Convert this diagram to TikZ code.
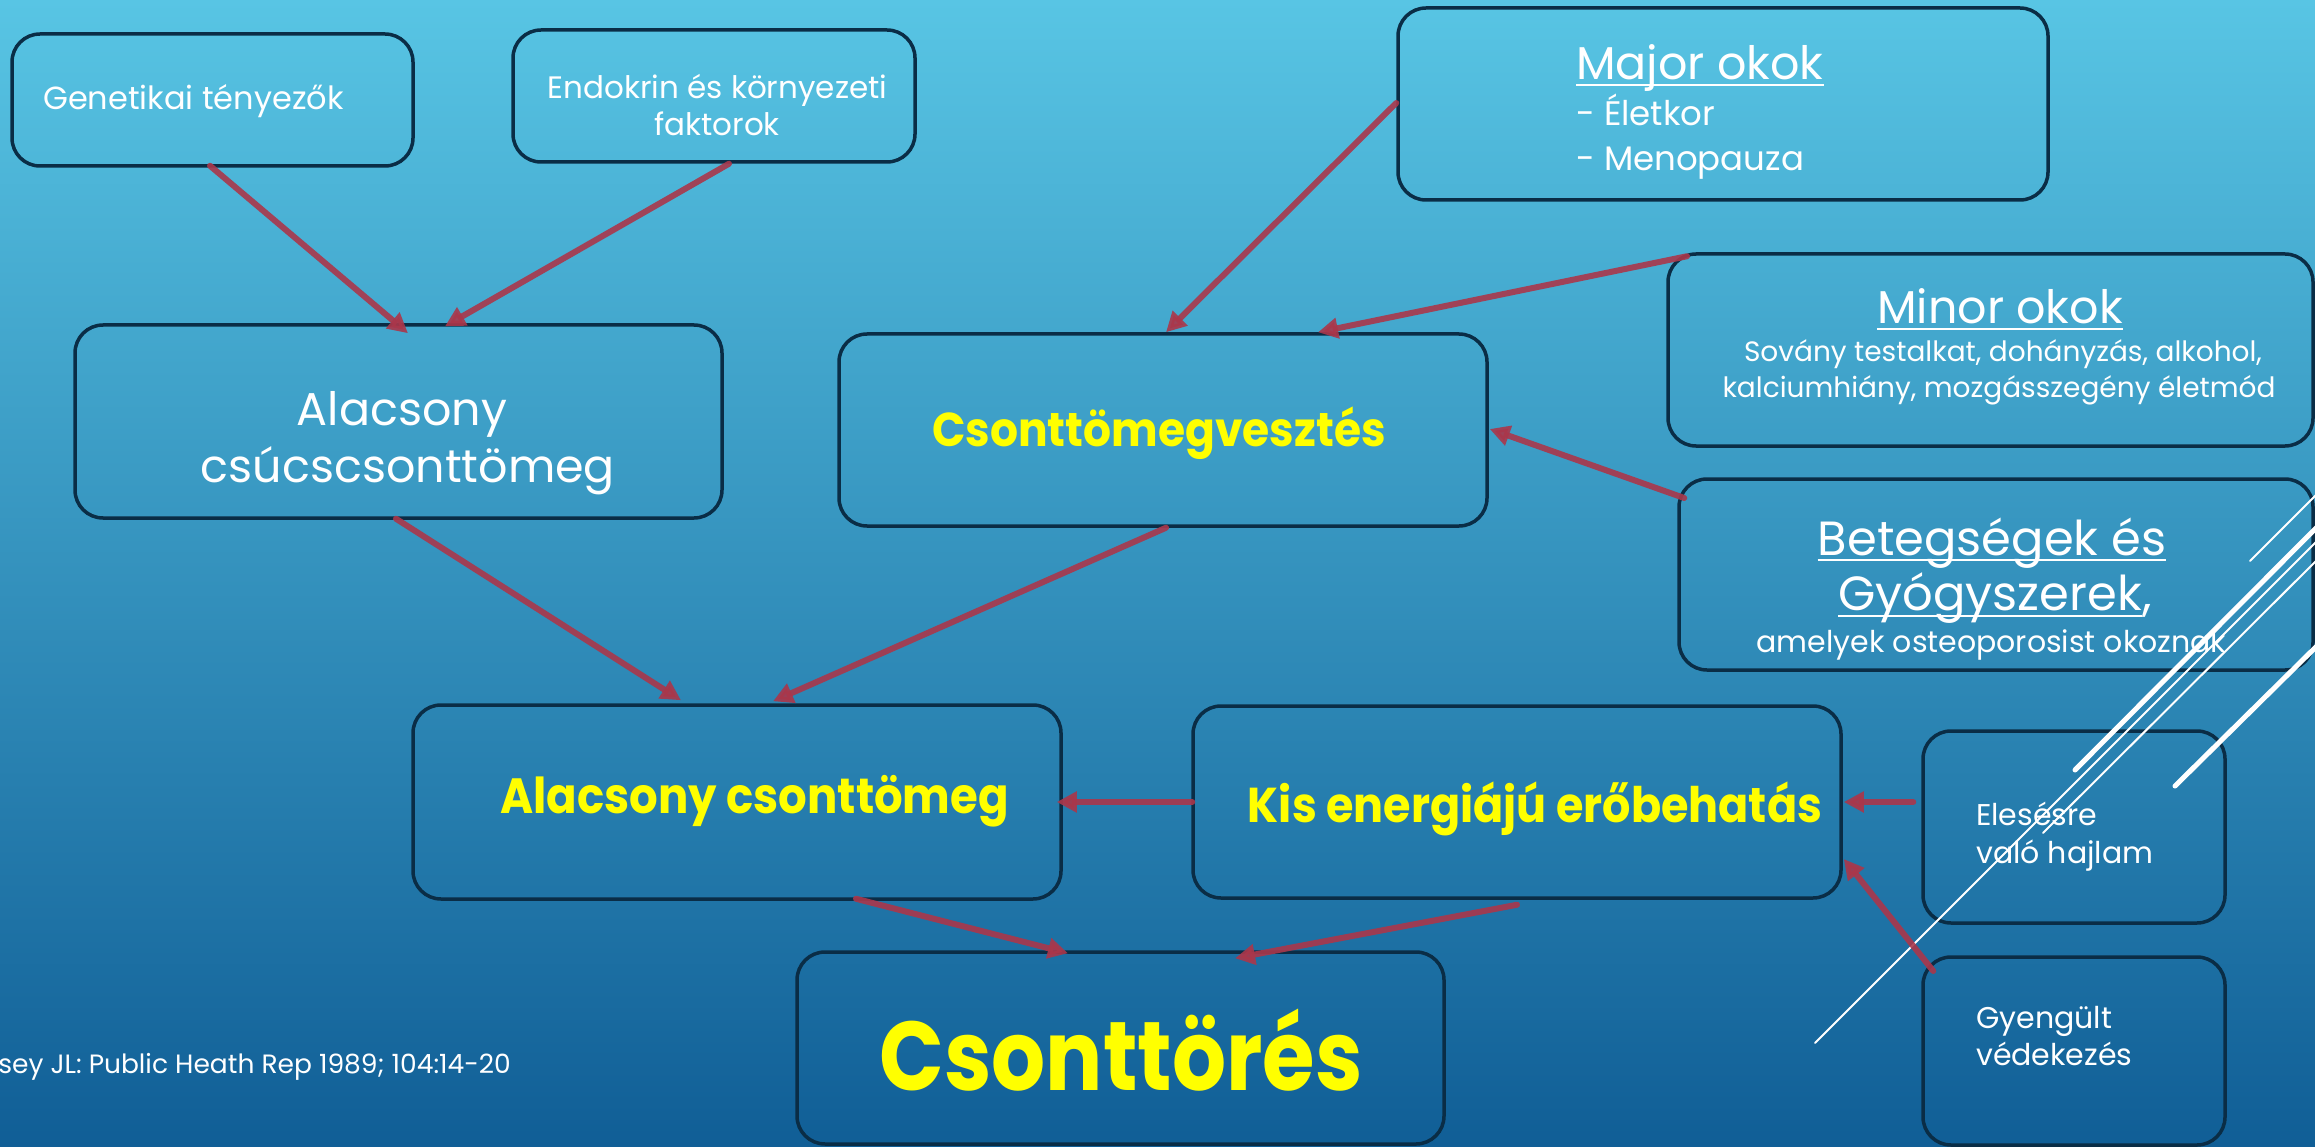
\documentclass[tikz,border=0pt]{standalone}
\usepackage{fontspec}
\usepackage{graphicx}
\setmainfont{Poppins}
\usetikzlibrary{arrows.meta,calc}
\definecolor{bgtop}{RGB}{88,197,228}
\definecolor{bgbot}{RGB}{16,94,150}
\definecolor{boxline}{RGB}{10,45,70}
\definecolor{arrred}{RGB}{170,55,75}
\definecolor{ylw}{RGB}{255,255,0}
\newcommand\fsz[1]{\fontsize{#1}{#1}\selectfont}
\newcommand\tallbox[2]{\scalebox{1}[#1]{#2}}
\begin{document}
\begin{tikzpicture}[x=1pt,y=-1pt,
  box/.style={draw=boxline, line width=3.5pt, rounded corners=28pt, inner sep=0pt},
  txt/.style={text=white, inner sep=0pt, anchor=base},
  ytxt/.style={text=ylw, inner sep=0pt, anchor=base, font=\bfseries},
  uline/.style={white, line width=2pt},
  deco/.style={white, line cap=round},
  arr/.style={draw=arrred, line width=6pt, line cap=round, opacity=0.9,
    -{Triangle[length=20pt,width=20pt]}}
]
\useasboundingbox (0,0) rectangle (2315,1147);
\clip (0,0) rectangle (2315,1147);
\shade[top color=bgtop, bottom color=bgbot] (0,0) rectangle (2315,1147);

% boxes
\node[box, minimum width=401pt, minimum height=132pt] (gen)   at (212.5,100) {};
\node[box, minimum width=402pt, minimum height=132pt] (endo)  at (714,96) {};
\node[box, minimum width=647pt, minimum height=193pt] (acs)   at (398.5,421.5) {};
\node[box, minimum width=648pt, minimum height=192pt] (ctv)   at (1163,430) {};
\node[box, minimum width=650pt, minimum height=192pt] (major) at (1723,104) {};
\node[box, minimum width=645pt, minimum height=192pt] (minor) at (1990.5,350) {};
\node[box, minimum width=634pt, minimum height=191pt] (beteg) at (1996,574.5) {};
\node[box, minimum width=648pt, minimum height=194pt] (acm)   at (737,802) {};
\node[box, minimum width=648pt, minimum height=192pt] (kis)   at (1517,802) {};
\node[box, minimum width=302pt, minimum height=192pt] (eles)  at (2074,827) {};
\node[box, minimum width=302pt, minimum height=188pt] (gyen)  at (2074,1051) {};
\node[box, minimum width=647pt, minimum height=192pt] (csto)  at (1120.5,1048) {};

% texts
\node[txt, anchor=base west] (gent) at (43,110) {\fsz{32}Genetikai tényezők};
\node[txt] (endt1) at (717.5,99) {\fsz{31}Endokrin és környezeti};
\node[txt] (endt2) at (717,136) {\fsz{31}faktorok};
\node[txt] (acst1) at (402,425) {\fsz{46}Alacsony};
\node[txt] (acst2) at (408,482) {\fsz{46}csúcscsonttömeg};
\node[ytxt] (ctvt) at (1159,446) {\fsz{44}\tallbox{1.08}{Csonttömegvesztés}};
\node[txt, anchor=base west] (majt1) at (1576,80) {\fsz{46}Major okok};
\node[txt, anchor=base west] (majt2) at (1576,126) {\fsz{34}- Életkor};
\node[txt, anchor=base west] (majt3) at (1576,171) {\fsz{34}- Menopauza};
\node[txt] (mint1) at (2000,324) {\fsz{46}Minor okok};
\node[txt] (mint2) at (2003,362) {\fsz{28}Sovány testalkat, dohányzás, alkohol,};
\node[txt] (mint3) at (1999,397) {\fsz{28}kalciumhiány, mozgásszegény életmód};
\node[txt] (bett1) at (1992,555) {\fsz{48}Betegségek és};
\node[txt, anchor=base west] (bett2) at (1838,610) {\fsz{48}Gyógyszerek};
\node[txt, anchor=base west] (bett2c) at (bett2.base east) {\fsz{48},};
\node[txt] (bett3) at (1991.5,652) {\fsz{30}amelyek osteoporosist okoznak};
\node[ytxt] (acmt) at (754.5,813) {\fsz{45}\tallbox{1.1}{Alacsony csonttömeg}};
\node[ytxt] (kist) at (1535,822) {\fsz{44.5}\tallbox{1.1}{Kis energiájú erőbehatás}};
\node[ytxt] (cstot) at (1121,1090) {\fsz{85}\tallbox{1.15}{Csonttörés}};
\node[txt, anchor=base west] (elt1) at (1976,825) {\fsz{30}Elesésre};
\node[txt, anchor=base west] (elt2) at (1976,863) {\fsz{30}való hajlam};
\node[txt, anchor=base west] (gyt1) at (1976,1028) {\fsz{30}Gyengült};
\node[txt, anchor=base west] (gyt2) at (1976,1065) {\fsz{30}védekezés};
\node[txt, anchor=base east] (cite) at (511,1073) {\fsz{26.5}sey JL: Public Heath Rep 1989; 104:14-20};

% underlines
\draw[uline] ([yshift=-5pt]majt1.base west) -- ([yshift=-5pt]majt1.base east);
\draw[uline] ([yshift=-5pt]mint1.base west) -- ([yshift=-5pt]mint1.base east);
\draw[uline] ([yshift=-5pt]bett1.base west) -- ([yshift=-5pt]bett1.base east);
\draw[uline] ([yshift=-6pt]bett2.base west) -- ([yshift=-6pt]bett2.base east);

% decorative lines
\coordinate (d1a) at (2250,561);  \coordinate (d1b) at (2330,481);
\coordinate (d2a) at (2075,770);  \coordinate (d2b) at (2330,514);
\coordinate (d3a) at (1815,1043); \coordinate (d3b) at (2330,528);
\coordinate (d4a) at (2043,833);  \coordinate (d4b) at (2330,547);
\coordinate (d5a) at (2175,786);  \coordinate (d5b) at (2330,633);
\draw[deco, line width=2pt] (d1a) -- (d1b);
\draw[deco, line width=5pt] (d2a) -- (d2b);
\draw[deco, line width=2pt] (d3a) -- (d3b);
\draw[deco, line width=2pt] (d4a) -- (d4b);
\draw[deco, line width=5pt] (d5a) -- (d5b);

% arrows
\draw[arr] ($(gen.south)+(-2.5,-2)$) -- ($(acs.north)+(9.5,10)$);
\draw[arr] ($(endo.south)+(15,0)$) -- ($(acs.north)+(46.5,3)$);
\draw[arr] ($(major.west)+(0,-1)$) -- ($(ctv.north)+(3,0)$);
\draw[arr] ($(minor.north)+(-303.5,4)$) -- ($(ctv.north)+(155,0)$);
\draw[arr] ($(beteg.west)+(7,-76.5)$) -- ($(ctv.east)+(1,-1)$);
\draw[arr] ($(acs.south)+(-2.5,-1)$) -- ($(acm.north)+(-56,-3)$);
\draw[arr] ($(ctv.south)+(3,0)$) -- ($(acm.north)+(36,-2)$);
\draw[arr] ($(kis.west)+(1,0)$) -- ($(acm.east)+(-6,0)$);
\draw[arr] ($(eles.west)+(-8,-25)$) -- ($(kis.east)+(1,0)$);
\draw[arr] ($(gyen.west)+(12,-80)$) -- ($(kis.east)+(1,57)$);
\draw[arr] ($(acm.south)+(119,-2)$) -- ($(csto.north)+(-52.5,3)$);
\draw[arr] ($(kis.south)+(0,5)$) -- ($(csto.north)+(114.5,8)$);
\end{tikzpicture}
\end{document}
